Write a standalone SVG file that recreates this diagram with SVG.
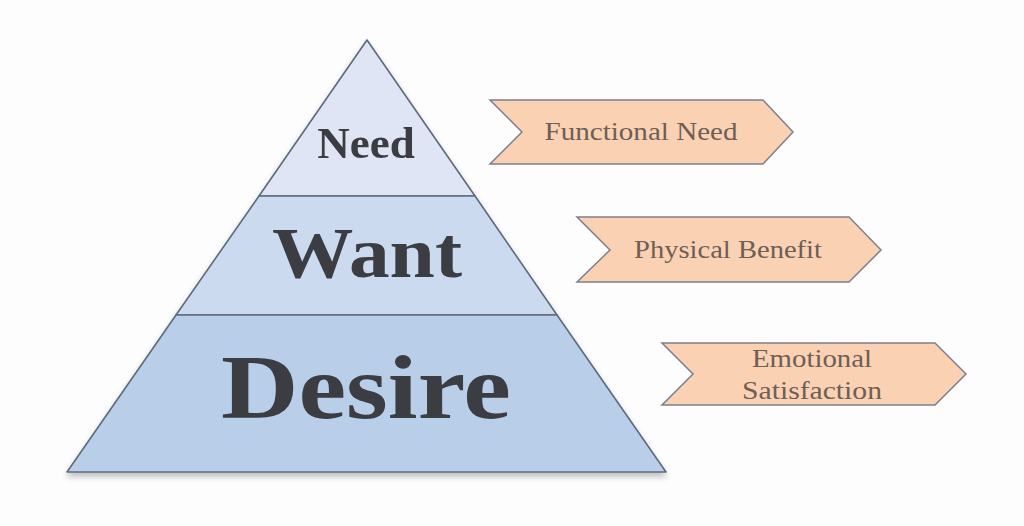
<svg xmlns="http://www.w3.org/2000/svg" width="1024" height="526" viewBox="0 0 1024 526">
<defs>
<filter id="sh" x="-10%" y="-10%" width="120%" height="130%">
<feGaussianBlur in="SourceAlpha" stdDeviation="3"/>
<feOffset dx="0" dy="4"/>
<feComponentTransfer><feFuncA type="linear" slope="0.25"/></feComponentTransfer>
<feMerge><feMergeNode/><feMergeNode in="SourceGraphic"/></feMerge>
</filter>
</defs>
<style>
.tier{stroke:#5d6b7c;stroke-width:1.6;stroke-linejoin:round}
.ptxt{font-family:"Liberation Serif",serif;font-weight:bold;fill:#3b3e42;text-anchor:middle}
.arr{fill:#fad2b3;stroke:#7d7f8c;stroke-width:1.5;stroke-linejoin:miter}
.atxt{font-family:"Liberation Serif",serif;font-size:26px;fill:#6e5e55;text-anchor:middle}
</style>
<rect width="1024" height="526" fill="#fdfdfd"/>
<g filter="url(#sh)">
<g id="need">
<polygon class="tier" points="367,40 475,196 259,196" fill="#dfe5f4"/>
<text class="ptxt" x="366" y="158" font-size="45">Need</text>
</g>
<g id="want">
<polygon class="tier" points="259,196 475,196 557,315 176,315" fill="#cbdaef"/>
<text class="ptxt" x="367" y="277" font-size="72" textLength="190" lengthAdjust="spacingAndGlyphs">Want</text>
</g>
<g id="desire">
<polygon class="tier" points="176,315 557,315 666,472 67,472" fill="#b9cfe9"/>
<text class="ptxt" x="366" y="418" font-size="92" textLength="290" lengthAdjust="spacingAndGlyphs">Desire</text>
</g>
</g>
<g id="functional-need">
<polygon class="arr" points="490,100 763,100 793,132 763,164 490,164 522,132"/>
<text class="atxt" x="641" y="140" textLength="193" lengthAdjust="spacingAndGlyphs">Functional Need</text>
</g>
<g id="physical-benefit">
<polygon class="arr" points="577,217 849,217 881,250 849,282 577,282 610,250"/>
<text class="atxt" x="728" y="258" textLength="188" lengthAdjust="spacingAndGlyphs">Physical Benefit</text>
</g>
<g id="emotional-satisfaction">
<polygon class="arr" points="662,343 935,343 966,374 935,405 662,405 693,374"/>
<text class="atxt" x="812" y="367" textLength="120" lengthAdjust="spacingAndGlyphs">Emotional</text>
<text class="atxt" x="812" y="399" textLength="140" lengthAdjust="spacingAndGlyphs">Satisfaction</text>
</g>
<g id="connectors"></g>
</svg>
